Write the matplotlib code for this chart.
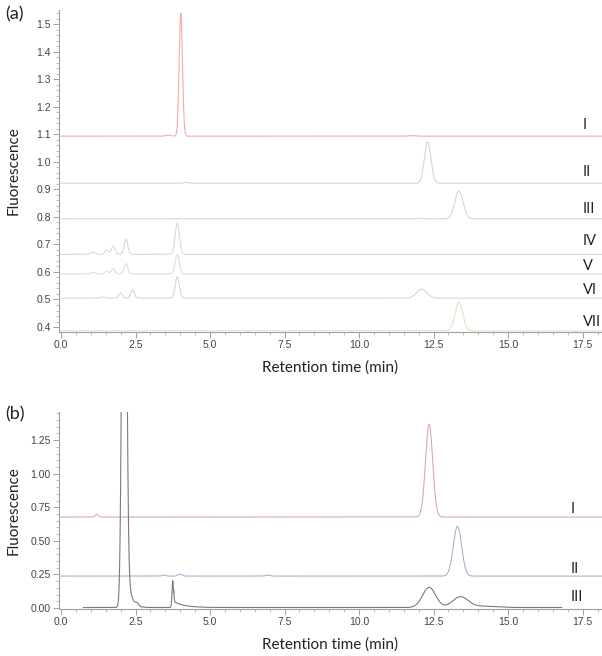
import numpy as np
import matplotlib
matplotlib.use("Agg")
import matplotlib.pyplot as plt
from matplotlib.ticker import MultipleLocator, FormatStrFormatter

# ---------------- data ----------------
# Panel (a): per trace baseline and peak table (centre min, height, width sigma min)
a_names = ["I", "II", "III", "IV", "V", "VI", "VII"]
a_baselines = [1.093, 0.922, 0.793, 0.664, 0.593, 0.505, 0.386]
a_peak_centres = [
    [3.60, 4.02, 11.80],
    [4.20, 12.30],
    [12.10, 13.35],
    [1.07, 1.53, 1.75, 2.18, 3.90],
    [1.07, 1.53, 1.75, 2.18, 3.90],
    [1.40, 2.00, 2.40, 3.90, 12.10],
    [13.35],
]
a_peak_heights = [
    [0.004, 0.447, 0.002],
    [0.003, 0.150],
    [0.002, 0.100],
    [0.008, 0.016, 0.030, 0.055, 0.113],
    [0.005, 0.010, 0.020, 0.037, 0.070],
    [0.004, 0.018, 0.030, 0.077, 0.033],
    [0.105],
]
a_peak_widths = [
    [0.08, 0.055, 0.10],
    [0.08, 0.11],
    [0.10, 0.14],
    [0.08, 0.06, 0.06, 0.06, 0.07],
    [0.08, 0.06, 0.06, 0.06, 0.07],
    [0.08, 0.06, 0.06, 0.07, 0.17],
    [0.13],
]

# Panel (b)
b_names = ["I", "II", "III"]
b_baselines = [0.678, 0.238, 0.004]
b_peak_centres = [
    [1.20, 12.35],
    [3.45, 4.00, 6.95, 13.30],
    [2.12, 2.55, 3.75, 12.35, 13.40, 14.20],
]
b_peak_heights = [
    [0.020, 0.690],
    [0.008, 0.015, 0.007, 0.370],
    [5.00, 0.020, 0.200, 0.150, 0.080, 0.010],
]
b_peak_widths = [
    [0.05, 0.12],
    [0.06, 0.07, 0.08, 0.14],
    [0.065, 0.05, 0.025, 0.22, 0.26, 0.40],
]
# exponential tails on trace III (start min, amplitude, decay min)
b_tail_starts = [2.22, 3.78]
b_tail_amps = [0.30, 0.045]
b_tail_decays = [0.12, 0.35]
b_trace3_range = [0.75, 16.8]

# ---------------- styling ----------------
a_colors = ["#f5aaaa", "#d9d2dc", "#d2d6e6", "#e4d4da", "#d2e2e4", "#d9d3e2", "#eae0ca"]
b_colors = ["#d8a8bc", "#a8b2d2", "#7a7a7a"]
a_label_y = [1.133, 0.962, 0.827, 0.711, 0.620, 0.533, 0.420]
b_label_y = [0.739, 0.290, 0.080]

label_font = ["Lato", "DejaVu Sans"]
tick_font = ["Liberation Sans", "DejaVu Sans"]

t = np.linspace(0, 18.2, 6000)


def trace(base, centres, heights, widths):
    y = np.full_like(t, base)
    for c, h, w in zip(centres, heights, widths):
        y += h * np.exp(-0.5 * ((t - c) / w) ** 2)
    return y


fig = plt.figure(figsize=(6.02, 6.56), dpi=100)
ax_a = fig.add_axes([59 / 602, 1 - 332 / 656, 1 - 59 / 602, (332 - 10) / 656])
ax_b = fig.add_axes([59 / 602, 1 - 609 / 656, 1 - 59 / 602, (609 - 412) / 656])

# panel a
for i in range(len(a_names)):
    y = trace(a_baselines[i], a_peak_centres[i], a_peak_heights[i], a_peak_widths[i])
    ax_a.plot(t, y, color=a_colors[i], lw=0.8)
    ax_a.text(17.5, a_label_y[i], a_names[i], fontsize=10.5, family=label_font,
              ha="left", va="center", color="#222")

# panel b
for i in range(len(b_names)):
    y = trace(b_baselines[i], b_peak_centres[i], b_peak_heights[i], b_peak_widths[i])
    tt = t
    if i == 2:
        for s, a, d in zip(b_tail_starts, b_tail_amps, b_tail_decays):
            y = y + np.where(t > s, a * np.exp(-(t - s) / d), 0) * (1 - np.exp(-np.clip(t - s + 0.03, 0, None) / 0.02))
        m = (t >= b_trace3_range[0]) & (t <= b_trace3_range[1])
        tt, y = t[m], y[m]
    ax_b.plot(tt, y, color=b_colors[i], lw=0.8)
    ax_b.text(17.1, b_label_y[i], b_names[i], fontsize=10.5, family=label_font,
              ha="left", va="center", color="#222")

for ax in (ax_a, ax_b):
    ax.set_xlim(-0.067, 18.15)
    ax.spines["top"].set_visible(False)
    ax.spines["right"].set_visible(False)
    for s in ("left", "bottom"):
        ax.spines[s].set_color("#a0a0a0")
        ax.spines[s].set_linewidth(0.8)
    ax.xaxis.set_major_locator(MultipleLocator(2.5))
    ax.xaxis.set_minor_locator(MultipleLocator(0.5))
    ax.xaxis.set_major_formatter(FormatStrFormatter("%.1f"))
    ax.tick_params(which="major", length=4, width=0.7, color="#a0a0a0",
                   labelsize=7.5, labelcolor="#444", pad=2)
    ax.tick_params(which="minor", length=2.2, width=0.6, color="#b0b0b0")
    ax.set_xlabel("Retention time (min)", fontsize=11, family=label_font, color="#222", labelpad=7)
    ax.set_ylabel("Fluorescence", fontsize=11, family=label_font, color="#222")
    ax.yaxis.set_label_coords(-38 / 543, 0.5)
    ax.patch.set_alpha(0)

ax_a.set_ylim(0.382, 1.551)
ax_a.yaxis.set_major_locator(MultipleLocator(0.1))
ax_a.yaxis.set_minor_locator(MultipleLocator(0.02))
ax_a.yaxis.set_major_formatter(FormatStrFormatter("%.1f"))

ax_b.set_ylim(-0.007, 1.46)
ax_b.yaxis.set_major_locator(MultipleLocator(0.25))
ax_b.yaxis.set_minor_locator(MultipleLocator(0.05))
ax_b.yaxis.set_major_formatter(FormatStrFormatter("%.2f"))

for ax in (ax_a, ax_b):
    for lab in ax.get_xticklabels() + ax.get_yticklabels():
        lab.set_family(tick_font)

fig.text(5 / 602, 1 - 14 / 656, "(a)", fontsize=13, family=label_font, color="#222", va="center")
fig.text(5 / 602, 1 - 414 / 656, "(b)", fontsize=13, family=label_font, color="#222", va="center")

fig.savefig("out.png", dpi=100)
